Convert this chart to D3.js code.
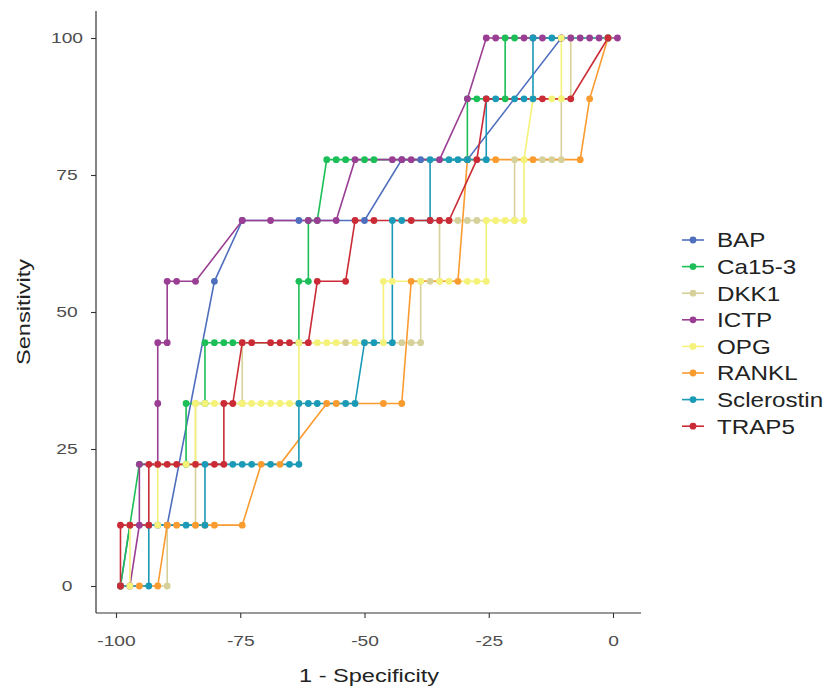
<!DOCTYPE html>
<html>
<head>
<meta charset="utf-8">
<script src="https://cdn.jsdelivr.net/npm/d3@7"></script>
<style>
  body { margin: 0; background: #fff; }
  text { font-family: "Liberation Sans", Arial, Helvetica, sans-serif; }
</style>
</head>
<body>
<div id="chart"></div>
<script>
// markers and colours, legend order
const markers = ['BAP', 'Ca15-3', 'DKK1', 'ICTP', 'OPG', 'RANKL', 'Sclerostin', 'TRAP5']
const colors = ['#4f6fbe', '#1cbf57', '#d6d19b', '#9a3e93', '#f5f27a', '#fa9b30', '#1a9ab6', '#cb2b36']

// x = "1 - Specificity" (plotted negative), y = sensitivity, both in %
const bapX = [-99.1, -97.2, -91.6, -89.7, -80.2, -74.6, -63.2, -50.0, -42.5, -38.7, -29.3, -10.4, -1.0]
const bapY = [0, 11.1, 11.1, 11.1, 55.6, 66.7, 66.7, 66.7, 77.8, 77.8, 77.8, 100, 100]

const caX = [-99.1, -95.3, -85.9, -85.9, -82.1, -82.1, -80.2, -78.3, -76.5, -63.2, -63.2, -61.3, -61.3, -59.5, -57.6, -55.7, -53.8, -50.0, -48.1, -29.3, -29.3, -27.4, -21.7, -21.7, -19.8, -1.0]
const caY = [0, 22.2, 22.2, 33.3, 33.3, 44.4, 44.4, 44.4, 44.4, 44.4, 55.6, 55.6, 66.7, 66.7, 77.8, 77.8, 77.8, 77.8, 77.8, 77.8, 88.9, 88.9, 88.9, 100, 100, 100]

const dkkX = [-99.1, -89.7, -89.7, -84.0, -84.0, -84.0, -74.6, -74.6, -53.8, -51.9, -42.5, -40.6, -38.7, -38.7, -36.8, -34.9, -34.9, -33.0, -31.2, -29.3, -27.4, -19.8, -19.8, -14.2, -12.3, -10.4, -10.4, -8.5, -8.5, -1.0]
const dkkY = [0, 0, 11.1, 11.1, 22.2, 33.3, 33.3, 44.4, 44.4, 44.4, 44.4, 44.4, 44.4, 55.6, 55.6, 55.6, 66.7, 66.7, 66.7, 66.7, 66.7, 66.7, 77.8, 77.8, 77.8, 77.8, 88.9, 88.9, 100, 100]

const ictpX = [-99.1, -97.2, -95.3, -95.3, -91.6, -91.6, -91.6, -89.7, -89.7, -87.8, -84.0, -74.6, -68.9, -61.3, -59.5, -55.7, -51.9, -44.4, -42.5, -40.6, -34.9, -29.3, -25.5, -23.6, -17.9, -16.1, -14.2, -10.4, -8.5, -6.6, -4.7, -2.8, 0.9]
const ictpY = [0, 0, 11.1, 22.2, 22.2, 33.3, 44.4, 44.4, 55.6, 55.6, 55.6, 66.7, 66.7, 66.7, 66.7, 66.7, 77.8, 77.8, 77.8, 77.8, 77.8, 88.9, 100, 100, 100, 100, 100, 100, 100, 100, 100, 100, 100]

const opgX = [-99.1, -97.2, -97.2, -91.6, -91.6, -85.9, -84.0, -84.0, -82.1, -80.2, -74.6, -72.7, -70.8, -68.9, -67.0, -65.1, -63.2, -63.2, -59.5, -57.6, -55.7, -51.9, -50.0, -46.2, -46.2, -44.4, -38.7, -34.9, -33.0, -29.3, -27.4, -25.5, -25.5, -23.6, -21.7, -19.8, -17.9, -17.9, -16.1, -12.3, -10.4, -10.4, -1.0]
const opgY = [0, 0, 11.1, 11.1, 22.2, 22.2, 22.2, 33.3, 33.3, 33.3, 33.3, 33.3, 33.3, 33.3, 33.3, 33.3, 33.3, 44.4, 44.4, 44.4, 44.4, 44.4, 44.4, 44.4, 55.6, 55.6, 55.6, 55.6, 55.6, 55.6, 55.6, 55.6, 66.7, 66.7, 66.7, 66.7, 66.7, 77.8, 88.9, 88.9, 88.9, 100, 100]

const ranklX = [-99.1, -95.3, -91.6, -89.7, -87.8, -84.0, -82.1, -80.2, -74.6, -70.8, -67.0, -57.6, -55.7, -46.2, -42.5, -40.6, -31.2, -29.3, -23.6, -16.1, -6.6, -4.7, -1.0]
const ranklY = [0, 0, 0, 11.1, 11.1, 11.1, 11.1, 11.1, 11.1, 22.2, 22.2, 33.3, 33.3, 33.3, 33.3, 55.6, 55.6, 77.8, 77.8, 77.8, 77.8, 88.9, 100]

const sclX = [-99.1, -93.4, -93.4, -85.9, -82.1, -82.1, -76.5, -74.6, -72.7, -68.9, -65.1, -63.2, -63.2, -61.3, -59.5, -53.8, -51.9, -50.0, -48.1, -44.4, -44.4, -42.5, -36.8, -36.8, -33.0, -31.2, -29.3, -25.5, -25.5, -23.6, -19.8, -17.9, -16.1, -16.1, -12.3, -1.0]
const sclY = [0, 0, 11.1, 11.1, 11.1, 22.2, 22.2, 22.2, 22.2, 22.2, 22.2, 22.2, 33.3, 33.3, 33.3, 33.3, 33.3, 44.4, 44.4, 44.4, 66.7, 66.7, 66.7, 77.8, 77.8, 77.8, 77.8, 77.8, 88.9, 88.9, 88.9, 88.9, 88.9, 100, 100, 100]

const trapX = [-99.1, -99.1, -97.2, -93.4, -93.4, -91.6, -89.7, -87.8, -84.0, -80.2, -78.3, -78.3, -76.5, -74.6, -72.7, -68.9, -67.0, -65.1, -61.3, -59.5, -53.8, -51.9, -48.1, -40.6, -36.8, -34.9, -33.0, -27.4, -25.5, -14.2, -8.5, -1.0]
const trapY = [0, 11.1, 11.1, 11.1, 22.2, 22.2, 22.2, 22.2, 22.2, 22.2, 22.2, 33.3, 33.3, 44.4, 44.4, 44.4, 44.4, 44.4, 44.4, 55.6, 55.6, 66.7, 66.7, 66.7, 66.7, 66.7, 66.7, 77.8, 88.9, 88.9, 88.9, 100]

const xTicks = [-100, -75, -50, -25, 0]
const yTicks = [0, 25, 50, 75, 100]

const curveX = [bapX, caX, dkkX, ictpX, opgX, ranklX, sclX, trapX]
const curveY = [bapY, caY, dkkY, ictpY, opgY, ranklY, sclY, trapY]

let width = 827
let height = 688

// the original font runs wide, so text gets a small horizontal stretch
let stretch = 1.24

let svg = d3
  .select('#chart')
  .append('svg')
  .attr('width', width)
  .attr('height', height)

let x = d3.scaleLinear().domain([-100, 0]).range([116, 613])
let y = d3.scaleLinear().domain([0, 100]).range([586, 38])

let curves = markers.map((name, i) => ({
  name: name,
  color: colors[i],
  points: curveX[i].map((v, j) => [v, curveY[i][j]])
}))

let line = d3
  .line()
  .x(d => x(d[0]))
  .y(d => y(d[1]))

// lines first, then points (like ggplot layers)
svg
  .selectAll('.roc')
  .data(curves)
  .enter()
  .append('path')
  .attr('class', 'roc')
  .attr('d', d => line(d.points))
  .attr('fill', 'none')
  .attr('stroke', d => d.color)
  .attr('stroke-width', 1.6)

curves.forEach(c => {
  svg
    .append('g')
    .selectAll('circle')
    .data(c.points)
    .enter()
    .append('circle')
    .attr('cx', d => x(d[0]))
    .attr('cy', d => y(d[1]))
    .attr('r', 3.4)
    .attr('fill', c.color)
})

// axes
let xAxis = svg
  .append('g')
  .attr('transform', 'translate(0,613)')
  .call(d3.axisBottom(x).tickValues(xTicks).tickFormat(d => String(d)).tickSize(5).tickPadding(17))
xAxis.select('.domain').remove()
xAxis.selectAll('line').attr('stroke', '#333').attr('stroke-width', 1.1)
xAxis.selectAll('text')
  .attr('font-size', 15.5)
  .attr('fill', '#4d4d4d')
  .attr('transform', 'scale(' + stretch + ',1)')
  .style('font-family', '"Liberation Sans", Arial, sans-serif')

// y labels sit centred on a column left of the axis
let yAxis = svg
  .append('g')
  .attr('transform', 'translate(96,0)')
  .call(d3.axisLeft(y).tickValues(yTicks).tickSize(5).tickPadding(7))
yAxis.select('.domain').remove()
yAxis.selectAll('line').attr('stroke', '#333').attr('stroke-width', 1.1)
yAxis.selectAll('text')
  .attr('font-size', 15.5)
  .attr('fill', '#4d4d4d')
  .attr('text-anchor', 'middle')
  .attr('x', -29 / stretch)
  .attr('transform', 'scale(' + stretch + ',1)')
  .style('font-family', '"Liberation Sans", Arial, sans-serif')

svg.append('line')
  .attr('x1', 96).attr('x2', 641).attr('y1', 613).attr('y2', 613)
  .attr('stroke', '#333').attr('stroke-width', 1.2)
svg.append('line')
  .attr('x1', 96).attr('x2', 96).attr('y1', 11).attr('y2', 613)
  .attr('stroke', '#333').attr('stroke-width', 1.2)

svg.append('text')
  .attr('transform', 'translate(369,682) scale(' + stretch + ',1)')
  .attr('text-anchor', 'middle')
  .attr('font-size', 19)
  .attr('fill', '#222')
  .text('1 - Specificity')

svg.append('text')
  .attr('transform', 'translate(30,312) rotate(-90) scale(' + stretch + ',1)')
  .attr('text-anchor', 'middle')
  .attr('font-size', 19)
  .attr('fill', '#222')
  .text('Sensitivity')

// legend
let legend = svg
  .selectAll('.legend')
  .data(curves)
  .enter()
  .append('g')
  .attr('class', 'legend')
  .attr('transform', (d, i) => 'translate(0,' + (240 + i * 26.6) + ')')

legend.append('line')
  .attr('x1', 682).attr('x2', 704)
  .attr('stroke', d => d.color)
  .attr('stroke-width', 1.6)
legend.append('circle')
  .attr('cx', 693).attr('r', 3.4)
  .attr('fill', d => d.color)
legend.append('text')
  .attr('transform', 'translate(717,0) scale(1.18,1)')
  .attr('dy', '0.36em')
  .attr('font-size', 20.5)
  .attr('fill', '#222')
  .text(d => d.name)
</script>
</body>
</html>
